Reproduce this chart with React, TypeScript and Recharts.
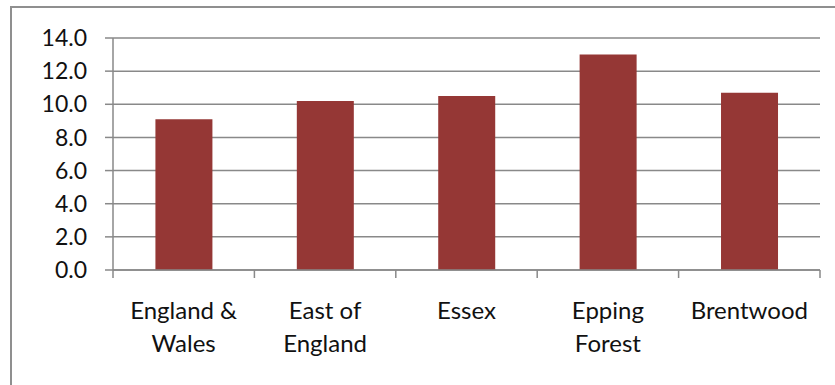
import React from "react";
import { BarChart, Bar, XAxis, YAxis, CartesianGrid } from "recharts";

const categories = ["England & Wales", "East of England", "Essex", "Epping Forest", "Brentwood"];
const categoryLines = [["England &", "Wales"], ["East of", "England"], ["Essex"], ["Epping", "Forest"], ["Brentwood"]];
const values = [9.1, 10.2, 10.5, 13.0, 10.7];
const yTicks = [0, 2, 4, 6, 8, 10, 12, 14];

const data = categories.map((c, i) => ({ name: c, value: values[i] }));

const FONT = "Lato, 'Open Sans', sans-serif";
const AXIS = "#898989";

const CatTick = (props: any) => {
  const { x, y, index, payload } = props;
  const lines = categoryLines[index] || [];
  const half = (payload && payload.offset) || 0;
  const isLast = index === categories.length - 1;
  return (
    <g>
      <line x1={x - half} x2={x - half} y1={y} y2={y + 8} stroke={AXIS} strokeWidth={1.5} />
      {isLast && <line x1={x + half} x2={x + half} y1={y} y2={y + 8} stroke={AXIS} strokeWidth={1.5} />}
      <text x={x} y={y} textAnchor="middle" fontFamily={FONT} fontSize={24} fill="#111">
        {lines.map((l, i) => (
          <tspan key={i} x={x} dy={i === 0 ? 49 : 33}>{l}</tspan>
        ))}
      </text>
    </g>
  );
};

export default function App() {
  return (
    <div style={{ position: "absolute", left: 0, top: 0, width: 835, height: 385, background: "#fff", overflow: "hidden" }}>
      <div style={{ position: "absolute", left: 10, top: 6, width: 840, height: 400, borderTop: "2px solid #8f8f8f", borderLeft: "2px solid #8f8f8f" }} />
      <div style={{ position: "absolute", left: 0, top: 0 }}>
        <BarChart width={835} height={385} data={data} margin={{ top: 38, right: 15, bottom: 0, left: 0 }} barCategoryGap="30%">
          <CartesianGrid vertical={false} horizontal stroke={AXIS} strokeWidth={1.5} />
          <XAxis dataKey="name" height={115} axisLine={{ stroke: AXIS, strokeWidth: 1.5 }} tickLine={false}
            tickSize={0} tickMargin={0} tick={<CatTick />} interval={0} />
          <YAxis domain={[0, 14]} ticks={yTicks} width={113} tickSize={8} tickMargin={18}
            axisLine={{ stroke: AXIS, strokeWidth: 1.5 }} tickLine={{ stroke: AXIS, strokeWidth: 1.5 }}
            tickFormatter={(v: number) => v.toFixed(1)}
            tick={{ fontFamily: FONT, fontSize: 23, fill: "#111" }} />
          <Bar dataKey="value" fill="#953735" isAnimationActive={false} />
        </BarChart>
      </div>
    </div>
  );
}
